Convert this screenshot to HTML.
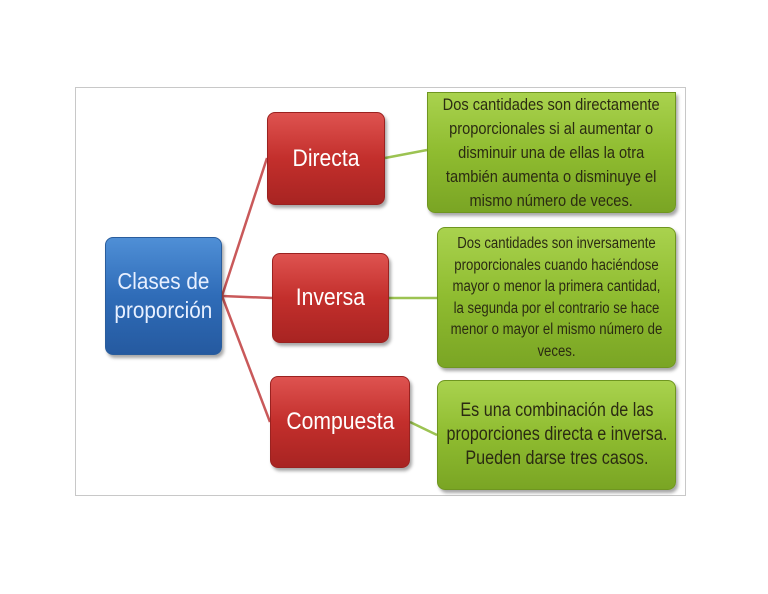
<!DOCTYPE html>
<html><head><meta charset="utf-8"><style>
body{margin:0;width:768px;height:594px;background:#fff;position:relative;overflow:hidden;font-family:"Liberation Sans",sans-serif}
.frame{position:absolute;left:75px;top:87px;width:611px;height:409px;border:1px solid #c8c8c8;box-sizing:border-box}
.b{position:absolute;box-sizing:border-box;border-radius:8px;display:flex;align-items:center;justify-content:center;text-align:center;overflow:visible}
.b span{display:inline-block;white-space:nowrap;transform:scaleX(0.82);flex-shrink:0}
.blue{background:linear-gradient(#4f8fd6,#2f6cb8 50%,#255aa0);border:1px solid #2a5d9c;color:#e8f0ff;font-size:23px;line-height:29px;box-shadow:2px 3px 3px rgba(0,0,0,.35)}
.red{background:linear-gradient(#de5350,#c32f2c 50%,#a82422);border:1px solid #9a2220;color:#fff;font-size:24px;box-shadow:2px 3px 3px rgba(0,0,0,.35)}
.green{background:linear-gradient(#a9d24e,#8fbc30 50%,#7aa524);border:1px solid #6f9620;color:#2b2b12;box-shadow:2px 3px 3px rgba(0,0,0,.35)}
</style></head><body>
<div class="frame"></div>
<svg style="position:absolute;left:0;top:0" width="768" height="594">
<g stroke="#c9595a" stroke-width="2.5" fill="none">
<line x1="222" y1="296" x2="267" y2="158"/>
<line x1="222" y1="296" x2="272" y2="298"/>
<line x1="222" y1="296" x2="270" y2="422"/>
</g>
<g stroke="#9cc352" stroke-width="2.5" fill="none">
<line x1="385" y1="158" x2="427" y2="150"/>
<line x1="389" y1="298" x2="437" y2="298"/>
<line x1="410" y1="422" x2="437" y2="435"/>
</g>
</svg>
<div class="b blue" style="left:105px;top:237px;width:117px;height:118px"><span style="transform:scaleX(0.9)">Clases de<br>proporción</span></div>
<div class="b red" style="left:267px;top:112px;width:118px;height:93px"><span style="transform:scaleX(0.88)">Directa</span></div>
<div class="b red" style="left:272px;top:253px;width:117px;height:90px"><span style="transform:scaleX(0.88)">Inversa</span></div>
<div class="b red" style="left:270px;top:376px;width:140px;height:92px"><span style="transform:scaleX(0.88)">Compuesta</span></div>
<div class="b green" style="left:427px;top:92px;width:249px;height:121px;font-size:17px;line-height:24px;border-top-left-radius:0;border-top-right-radius:0"><span style="transform:scaleX(0.86)">Dos cantidades son directamente<br>proporcionales si al aumentar o<br>disminuir una de ellas la otra<br>también aumenta o disminuye el<br>mismo número de veces.</span></div>
<div class="b green" style="left:437px;top:227px;width:239px;height:141px;font-size:15.5px;line-height:21.5px"><span style="transform:scaleX(0.85)">Dos cantidades son inversamente<br>proporcionales cuando haciéndose<br>mayor o menor la primera cantidad,<br>la segunda por el contrario se hace<br>menor o mayor el mismo número de<br>veces.</span></div>
<div class="b green" style="left:437px;top:380px;width:239px;height:110px;font-size:19px;line-height:24px"><span style="transform:scaleX(0.85)">Es una combinación de las<br>proporciones directa e inversa.<br>Pueden darse tres casos.</span></div>
</body></html>
